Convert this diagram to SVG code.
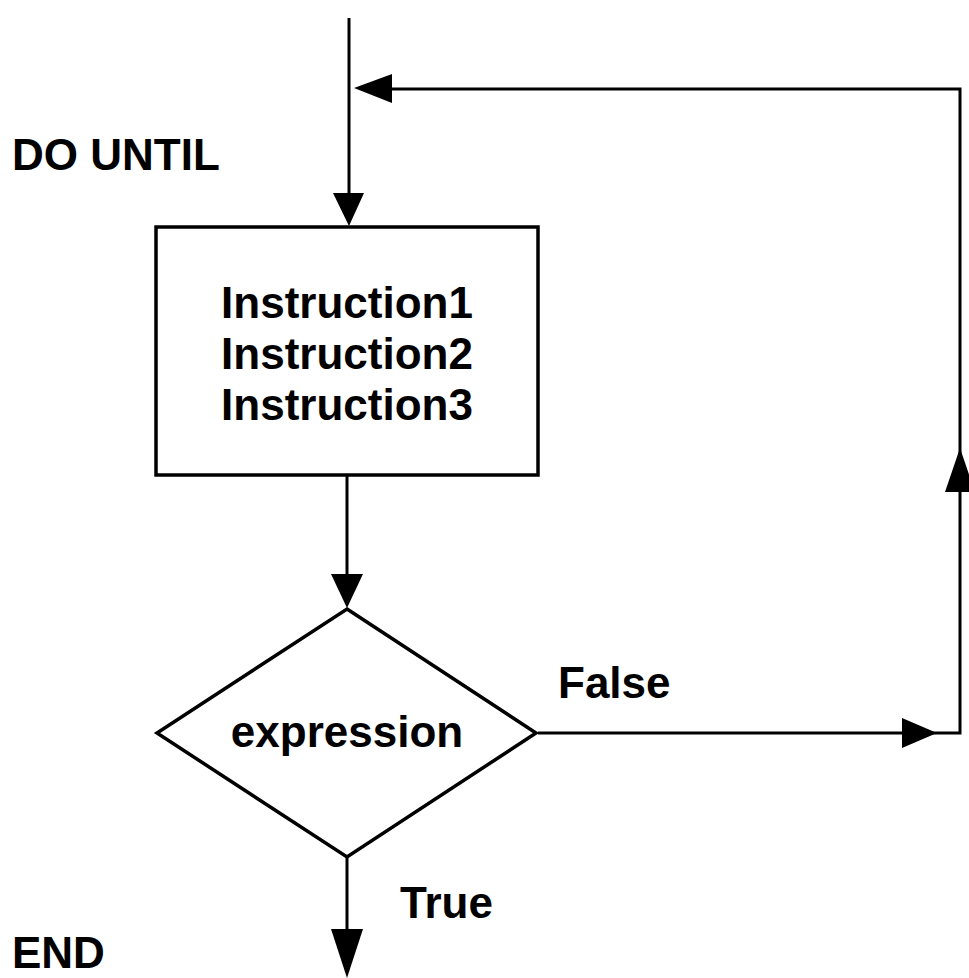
<svg xmlns="http://www.w3.org/2000/svg" width="969" height="978" viewBox="0 0 969 978">
<style>
.ln{stroke:#000;stroke-width:3;fill:none}
.sh{stroke:#000;stroke-width:3.5;fill:#fff}
.ah{fill:#000;stroke:none}
text{font-family:"Liberation Sans",Arial,sans-serif;font-weight:bold;font-size:44px;fill:#000}
</style>
<rect width="969" height="978" fill="#fff"/>
<g id="connectors">
<line class="ln" x1="349" y1="18" x2="349" y2="200"/>
<polygon class="ah" points="333,193 364,193 349,226"/>
<polyline class="ln" points="538,733 960,733 960,89 380,89"/>
<polygon class="ah" points="354,88 392,74 392,103"/>
<polygon class="ah" points="902,718 902,748 937,733"/>
<polygon class="ah" points="945,492 975,492 960,448"/>
<line class="ln" x1="347" y1="475" x2="347" y2="590"/>
<polygon class="ah" points="331,574 363,574 347,608"/>
<line class="ln" x1="347" y1="857" x2="347" y2="940"/>
<polygon class="ah" points="331,929 363,929 347,978"/>
</g>
<g id="label-do-until"><text x="12" y="170">DO UNTIL</text></g>
<g id="box">
<rect class="sh" x="156" y="227" width="382" height="248"/>
<text x="347" y="318" text-anchor="middle">Instruction1</text>
<text x="347" y="369" text-anchor="middle">Instruction2</text>
<text x="347" y="420" text-anchor="middle">Instruction3</text>
</g>
<g id="decision">
<polygon class="sh" points="347,609 536,733 347,857 157,733"/>
<text x="347" y="747" text-anchor="middle">expression</text>
</g>
<g id="label-false"><text x="558" y="698">False</text></g>
<g id="label-true"><text x="400" y="918">True</text></g>
<g id="label-end"><text x="12" y="968">END</text></g>
</svg>
